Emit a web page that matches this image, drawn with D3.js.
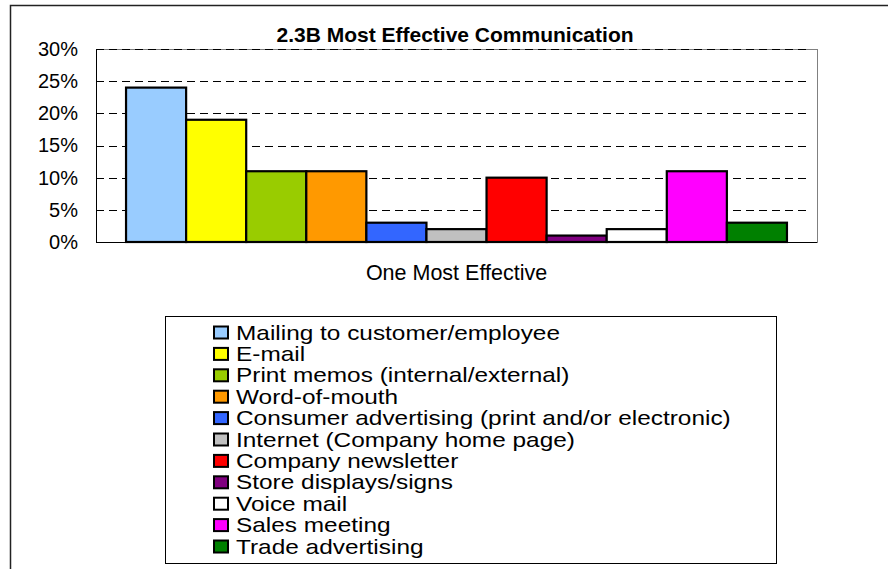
<!DOCTYPE html>
<html>
<head>
<meta charset="utf-8">
<script src="https://cdn.jsdelivr.net/npm/d3@7"></script>
<style>
    body { margin: 0; background: #fff; }
    svg { display: block; font-family: "Liberation Sans", Arial, sans-serif; }
</style>
</head>
<body>
<svg width="888" height="569"></svg>
<script>
// chart data
var categories = [
    "Mailing to customer/employee",
    "E-mail",
    "Print memos (internal/external)",
    "Word-of-mouth",
    "Consumer advertising (print and/or electronic)",
    "Internet (Company home page)",
    "Company newsletter",
    "Store displays/signs",
    "Voice mail",
    "Sales meeting",
    "Trade advertising"
];
var values = [0.24, 0.19, 0.11, 0.11, 0.03, 0.02, 0.10, 0.01, 0.02, 0.11, 0.03];
var yTicks = [0, 0.05, 0.10, 0.15, 0.20, 0.25, 0.30];
var groupLabel = "One Most Effective";
var title = "2.3B Most Effective Communication";

// excel default palette
var palette = ["#99CCFF", "#FFFF00", "#99CC00", "#FF9900", "#3366FF", "#C0C0C0",
               "#FF0000", "#800080", "#FFFFFF", "#FF00FF", "#008000"];

window.onload = main;

function main() {
    var svg = d3.select("svg");

    var plot = { left: 96, right: 817, top: 49, bottom: 242 };

    // outer chart border (only top + left show in the crop)
    svg.append("rect")
        .attr("x", 10.5).attr("y", 5.5)
        .attr("width", 900).attr("height", 600)
        .attr("fill", "none")
        .attr("stroke", "#222")
        .attr("stroke-width", 1.5);

    var x = d3.scaleBand()
        .domain(categories)
        .range([plot.left, plot.right])
        .paddingInner(0)
        .paddingOuter(0.5);

    var y = d3.scaleLinear()
        .domain([0, 0.30])
        .range([plot.bottom, plot.top]);

    var color = d3.scaleOrdinal().domain(categories).range(palette);

    // plot area frame
    svg.append("rect")
        .attr("x", plot.left + 0.5).attr("y", plot.top + 0.5)
        .attr("width", plot.right - plot.left)
        .attr("height", plot.bottom - plot.top)
        .attr("fill", "#fff")
        .attr("stroke", "#808080")
        .attr("stroke-width", 1);

    // dashed gridlines
    svg.append("g")
        .selectAll("line")
        .data(yTicks.slice(1))
        .enter()
        .append("line")
        .attr("x1", plot.left)
        .attr("x2", plot.right - 6)
        .attr("y1", d => Math.round(y(d)) + 0.5)
        .attr("y2", d => Math.round(y(d)) + 0.5)
        .attr("stroke", "#000")
        .attr("stroke-dasharray", "8,5");

    // y axis
    var yAxis = d3.axisLeft(y)
        .tickValues(yTicks)
        .tickFormat(d3.format(".0%"))
        .tickSize(0)
        .tickPadding(18);

    svg.append("g")
        .attr("transform", "translate(" + plot.left + ",0)")
        .call(yAxis)
        .call(g => g.select(".domain").attr("stroke", "#000"))
        .selectAll("text")
        .attr("font-size", 20)
        .attr("font-family", "Liberation Sans, Arial, sans-serif")
        .attr("fill", "#000");

    // bars
    svg.append("g")
        .selectAll("rect")
        .data(values)
        .enter()
        .append("rect")
        .attr("x", (d, i) => x(categories[i]))
        .attr("y", d => y(d))
        .attr("width", x.bandwidth())
        .attr("height", d => y(0) - y(d))
        .attr("fill", (d, i) => color(categories[i]))
        .attr("stroke", "#000")
        .attr("stroke-width", 2.2);

    // x baseline
    svg.append("line")
        .attr("x1", plot.left).attr("x2", plot.right)
        .attr("y1", plot.bottom + 0.5).attr("y2", plot.bottom + 0.5)
        .attr("stroke", "#000");

    svg.append("text")
        .attr("x", (plot.left + plot.right) / 2)
        .attr("y", 280)
        .attr("text-anchor", "middle")
        .attr("font-size", 21.5)
        .text(groupLabel);

    svg.append("text")
        .attr("x", 455)
        .attr("y", 42)
        .attr("text-anchor", "middle")
        .attr("font-size", 21)
        .attr("font-weight", "bold")
        .text(title);

    // legend
    var legend = svg.append("g");
    legend.append("rect")
        .attr("x", 165.5).attr("y", 316.5)
        .attr("width", 611).attr("height", 247)
        .attr("fill", "#fff")
        .attr("stroke", "#000");

    var rows = legend.selectAll("g.row")
        .data(categories)
        .enter()
        .append("g")
        .attr("class", "row")
        .attr("transform", (d, i) => "translate(214," + (339.5 + i * 21.4) + ")");

    rows.append("rect")
        .attr("x", 0).attr("y", -13)
        .attr("width", 14).attr("height", 12)
        .attr("fill", d => color(d))
        .attr("stroke", "#000")
        .attr("stroke-width", 2);

    // legend text in the source is wider than it is tall
    rows.append("text")
        .attr("transform", "translate(22,0) scale(1.22,1)")
        .attr("font-size", 20)
        .text(d => d);
}
</script>
</body>
</html>
